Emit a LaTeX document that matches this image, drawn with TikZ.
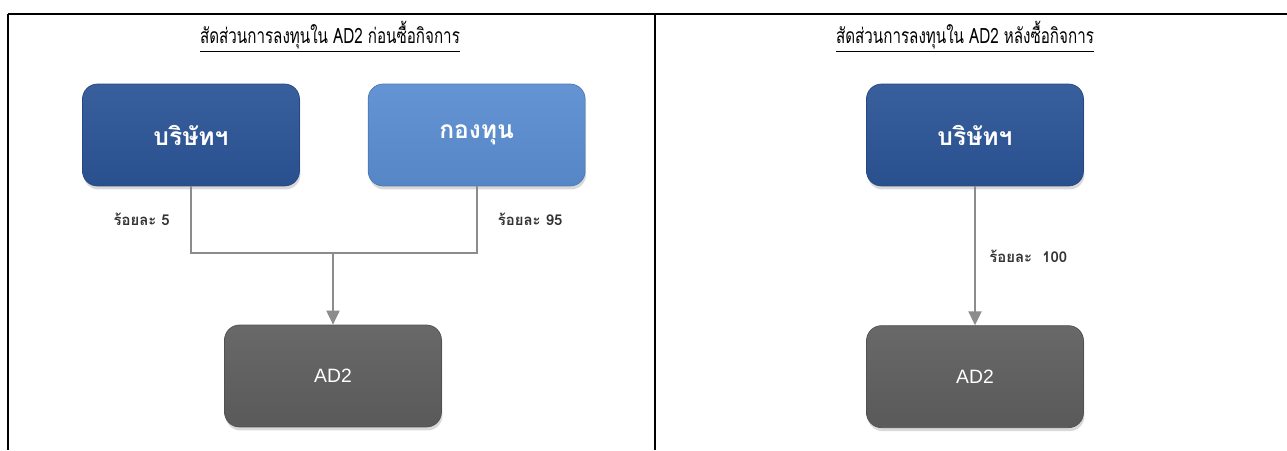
\documentclass[tikz,border=0pt]{standalone}
\usepackage{fontspec}
\setmainfont{Liberation Sans}
\newfontfamily\thaifont[Script=Thai]{Loma}
\usepackage{tikz}
\usetikzlibrary{shadows,arrows.meta,positioning,calc}
\usepackage{xcolor}
\definecolor{codark}{HTML}{2C5597}
\definecolor{fundblue}{HTML}{5A8DD0}
\definecolor{adgray}{HTML}{5F5F5F}
\definecolor{linkgray}{HTML}{8C8C8C}

\begin{document}
\begin{tikzpicture}[x=0.02cm,y=-0.02cm,
  every node/.style={align=center},%
  box/.style={rounded corners=0.3cm,minimum width=4.34cm,minimum height=2.04cm,
    text=white,drop shadow={shadow xshift=0.02cm,shadow yshift=-0.07cm,opacity=0.3}},%
  co/.style={box,top color=codark!94!white,bottom color=codark!94!black,draw=codark!85!black,
    font=\thaifont\bfseries\fontsize{14}{16}\selectfont},%
  fund/.style={box,top color=fundblue!94!white,bottom color=fundblue!95!black,draw=fundblue!85!black,
    font=\thaifont\bfseries\fontsize{14}{16}\selectfont},%
  ad/.style={box,top color=adgray!94!white,bottom color=adgray!94!black,draw=adgray!85!black,
    font=\fontsize{11}{13}\selectfont},%
  head/.style={font=\thaifont\fontsize{12}{14}\selectfont},%
  pct/.style={font=\thaifont\bfseries\fontsize{8.5}{10}\selectfont,text=black!80},%
  e/.style={draw=linkgray,line width=1.1pt},%
  ea/.style={e,-{Triangle[length=0.28cm,width=0.26cm]},fill=linkgray},%
  rule/.style={line width=1.1pt},%
  ]
  \useasboundingbox (0,0) rectangle (1287,450);

  % table frame
  \draw [rule] (8,14) -- (1287,14);
  \draw [rule] (8,14) -- (8,450);
  \draw [rule] (655,14) -- (655,450);

  % headings
  \node (titlebefore) [head] at (330,37)
  {\scalebox{0.72}[1]{\underline{สัดส่วนการลงทุนใน AD2 ก่อนซื้อกิจการ}}};
  \node (titleafter) [head] at (965,37)
  {\scalebox{0.72}[1]{\underline{สัดส่วนการลงทุนใน AD2 หลังซื้อกิจการ}}};

  % before
  \node (company) [co] at (191,135) {บริษัทฯ};
  \node (fund) [fund, right=1.36cm of company] {กองทุน};
  \node (adbefore) [ad] at (333,376) {AD2};

  \coordinate (split) at (adbefore.north |- 0,253);
  \draw [e] (company.south) |- (split) -| (fund.south);
  \draw [ea] (split) -- (adbefore.north);

  \path (company.south) -- (company.south |- split)
  node (pfive) [pct,midway,left=0.3cm] {ร้อยละ 5};
  \path (fund.south) -- (fund.south |- split)
  node (pninetyfive) [pct,midway,right=0.3cm] {ร้อยละ 95};

  % after
  \node (companyafter) [co] at (975,135) {บริษัทฯ};
  \node (adafter) [ad, below=2.78cm of companyafter] {AD2};

  \draw [ea] (companyafter) -- (adafter)
  node (phundred) [pct,midway,right,xshift=0.15cm] {ร้อยละ~~100};
\end{tikzpicture}
\end{document}
